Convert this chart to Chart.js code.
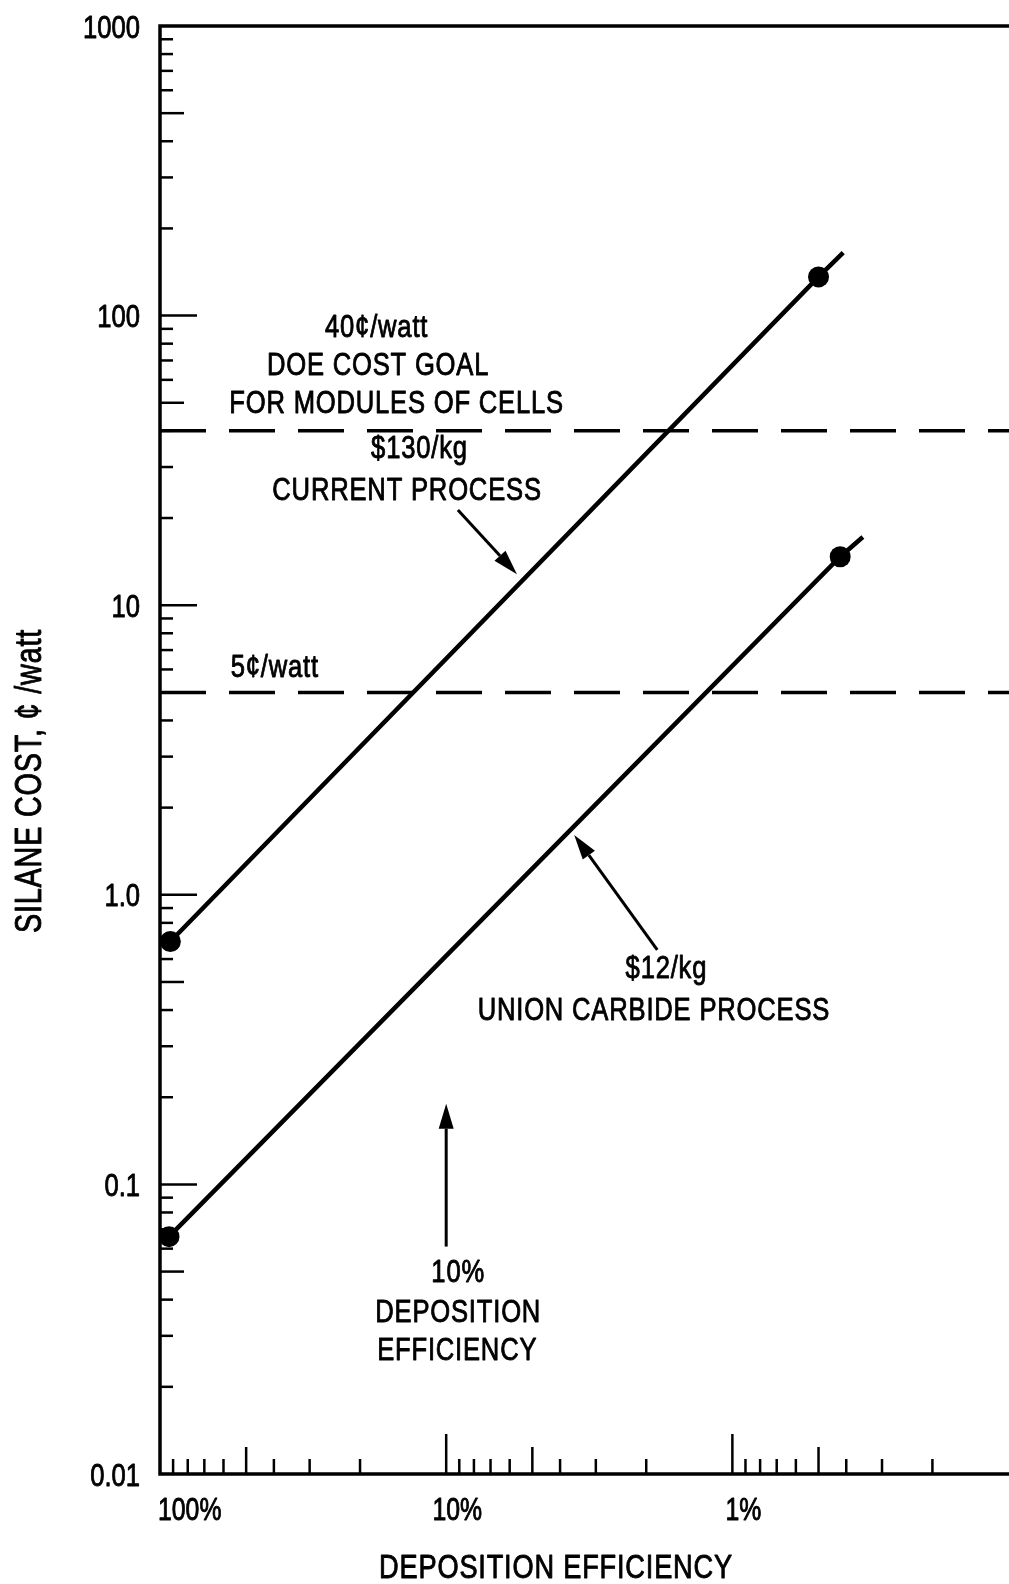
<!DOCTYPE html>
<html>
<head>
<meta charset="utf-8">
<title>Silane cost vs deposition efficiency</title>
<script src="https://cdn.jsdelivr.net/npm/chart.js@4.4.1/dist/chart.umd.min.js"></script>
<style>
  html, body { margin: 0; padding: 0; background: #fff; }
  canvas { display: block; }
</style>
</head>
<body>
<canvas id="chart" width="1009" height="1584"></canvas>
<script>
// Deposition efficiency (%) and silane cost (cents per watt) for each process line.
// The last point of each line is where the drawn line stops (no marker).
const effCurrent  = [92, 0.5, 0.41];
const costCurrent = [0.69, 136, 165];
const effUnion    = [93, 0.42, 0.35];
const costUnion   = [0.066, 14.7, 17.2];

// Horizontal reference levels, cents per watt.
const goalLevels = [40, 5];

// Axis ranges.
const effRange  = [0.108, 100];
const costRange = [0.01, 1000];

// Labelled ticks.
const yTickValues = [1000, 100, 10, 1, 0.1, 0.01];
const yTickLabels = ['1000', '100', '10', '1.0', '0.1', '0.01'];
const xTickValues = [100, 10, 1];
const xTickNumbers = ['100', '10', '1'];

// Tick marks drawn inside the frame.
const yMajorMarks = [100, 10, 1, 0.1];
const yMidMarks   = [500, 50, 5, 0.5, 0.05];
const yMinorMarks = [900, 800, 700, 600, 400, 300, 200,
                     90, 80, 70, 60, 40, 30, 20,
                     9, 8, 7, 6, 4, 3, 2,
                     0.9, 0.8, 0.7, 0.6, 0.4, 0.3, 0.2,
                     0.09, 0.08, 0.07, 0.06, 0.04, 0.03, 0.02];
const xMajorMarks = [10, 1];
const xMidMarks   = [50, 5, 0.5];
const xMinorMarks = [90, 80, 70, 60, 40, 30, 20,
                     9, 8, 7, 6, 4, 3, 2,
                     0.9, 0.8, 0.7, 0.6, 0.4, 0.3, 0.2];

// Text notes placed at (efficiency, cost) of their baseline centre.
const notes = [
  { text: '40\u00a2/watt',            eff: 17.5, cost: 84.6 },
  { text: 'DOE COST GOAL',            eff: 17.3, cost: 62.4 },
  { text: 'FOR MODULES OF CELLS',     eff: 14.9, cost: 46.2 },
  { text: '$130/kg',                  eff: 12.4, cost: 32.2 },
  { text: 'CURRENT PROCESS',          eff: 13.7, cost: 23.1 },
  { text: '5\u00a2/watt',             eff: 39.7, cost: 5.66 },
  { text: '$12/kg',                   eff: 1.70, cost: 0.516 },
  { text: 'UNION CARBIDE PROCESS',    eff: 1.88, cost: 0.370 },
  { text: '10%',                      eff: 9.08, cost: 0.0461 },
  { text: 'DEPOSITION',               eff: 9.08, cost: 0.0336 },
  { text: 'EFFICIENCY',               eff: 9.15, cost: 0.0247 }
];

// Pointer arrows: from tail to head, in (efficiency, cost).
const arrows = [
  { from: [9.10, 21.3],  to: [5.66, 12.8] },
  { from: [1.83, 0.645], to: [3.57, 1.61] },
  { from: [10, 0.061],   to: [10, 0.19] }
];

const INK = '#000';
const FONT = '"Liberation Sans", Arial, sans-serif';
const SQUEEZE = 0.8;   // horizontal squeeze for the narrow lettering

const toPoints = (xs, ys) => xs.map((v, i) => ({ x: v, y: ys[i] }));

const processLine = (label, xs, ys) => ({
  label,
  data: toPoints(xs, ys),
  showLine: true,
  borderColor: INK,
  backgroundColor: INK,
  borderWidth: 4.5,
  pointRadius: [10.5, 10.5, 0],
  pointBorderWidth: 0,
  pointBackgroundColor: INK
});

const datasets = [
  processLine('$130/kg current process', effCurrent, costCurrent),
  processLine('$12/kg Union Carbide process', effUnion, costUnion)
].concat(goalLevels.map(level => ({
  label: level + ' cents/watt',
  data: [{ x: effRange[1], y: level }, { x: effRange[0], y: level }],
  showLine: true,
  borderColor: INK,
  borderWidth: 3.5,
  borderDash: [46, 23],
  pointRadius: 0
})));

// Narrow text: draws with the canvas squeezed horizontally around the anchor,
// with a thin outline to give the lettering some weight.
function narrowText(ctx, text, x, y, size, align, spacing) {
  ctx.save();
  ctx.font = size + 'px ' + FONT;
  ctx.letterSpacing = (spacing || 0) + 'px';
  ctx.textAlign = align || 'center';
  ctx.translate(x, y);
  ctx.scale(SQUEEZE, 1);
  ctx.lineWidth = 0.9;
  ctx.lineJoin = 'round';
  ctx.fillText(text, 0, 0);
  ctx.strokeText(text, 0, 0);
  ctx.restore();
}
function narrowWidth(ctx, text, size) {
  ctx.save();
  ctx.font = size + 'px ' + FONT;
  ctx.letterSpacing = '0px';
  const w = ctx.measureText(text).width * SQUEEZE;
  ctx.restore();
  return w;
}

const paperPlugin = {
  id: 'paper',
  afterDraw(chart) {
    const { ctx, chartArea: a, scales: { x, y } } = chart;
    ctx.save();
    ctx.strokeStyle = INK;
    ctx.fillStyle = INK;

    // Frame: top, left and bottom edges
    ctx.lineWidth = 3.5;
    ctx.beginPath();
    ctx.moveTo(a.right, a.top);
    ctx.lineTo(a.left, a.top);
    ctx.lineTo(a.left, a.bottom);
    ctx.lineTo(a.right, a.bottom);
    ctx.stroke();

    // Inward tick marks
    ctx.lineWidth = 2.5;
    const yMark = (v, len) => {
      const p = y.getPixelForValue(v);
      ctx.beginPath(); ctx.moveTo(a.left, p); ctx.lineTo(a.left + len, p); ctx.stroke();
    };
    const xMark = (v, len) => {
      const p = x.getPixelForValue(v);
      ctx.beginPath(); ctx.moveTo(p, a.bottom); ctx.lineTo(p, a.bottom - len); ctx.stroke();
    };
    yMajorMarks.forEach(v => yMark(v, 37));
    yMidMarks.forEach(v => yMark(v, 24));
    yMinorMarks.forEach(v => yMark(v, 13));
    xMajorMarks.forEach(v => xMark(v, 40));
    xMidMarks.forEach(v => xMark(v, 27));
    xMinorMarks.forEach(v => xMark(v, 15));

    // Tick labels
    ctx.textBaseline = 'alphabetic';
    yTickValues.forEach((v, i) => {
      narrowText(ctx, yTickLabels[i], a.left - 20, y.getPixelForValue(v) + 11.5, 32, 'right');
    });
    xTickValues.forEach((v, i) => {
      // the number sits centred on its tick, the % sign trails it
      const num = xTickNumbers[i];
      const left = Math.max(x.getPixelForValue(v) - narrowWidth(ctx, num, 31) / 2, a.left - 2);
      narrowText(ctx, num + '%', left, a.bottom + 46, 31, 'left');
    });

    // Arrows
    ctx.lineWidth = 3;
    arrows.forEach(({ from, to }) => {
      const x0 = x.getPixelForValue(from[0]), y0 = y.getPixelForValue(from[1]);
      const x1 = x.getPixelForValue(to[0]),   y1 = y.getPixelForValue(to[1]);
      const ang = Math.atan2(y1 - y0, x1 - x0);
      const headLen = 25, headHalf = 7.5;
      const bx = x1 - headLen * Math.cos(ang), by = y1 - headLen * Math.sin(ang);
      ctx.beginPath(); ctx.moveTo(x0, y0); ctx.lineTo(bx, by); ctx.stroke();
      ctx.beginPath();
      ctx.moveTo(x1, y1);
      ctx.lineTo(bx + headHalf * Math.sin(ang), by - headHalf * Math.cos(ang));
      ctx.lineTo(bx - headHalf * Math.sin(ang), by + headHalf * Math.cos(ang));
      ctx.closePath();
      ctx.fill();
    });

    // Notes
    notes.forEach(n => {
      narrowText(ctx, n.text, x.getPixelForValue(n.eff), y.getPixelForValue(n.cost), 32, 'center', 1);
    });

    // Axis titles
    narrowText(ctx, 'DEPOSITION EFFICIENCY', 556, 1578, 34, 'center', 1);
    ctx.save();
    ctx.translate(41, 781);
    ctx.rotate(-Math.PI / 2);
    narrowText(ctx, 'SILANE COST, \u00a2 /watt', 0, 0, 36, 'center', 1);
    ctx.restore();

    ctx.restore();
  }
};

new Chart(document.getElementById('chart'), {
  type: 'scatter',
  data: { datasets },
  plugins: [paperPlugin],
  options: {
    responsive: false,
    devicePixelRatio: 1,
    animation: false,
    layout: { autoPadding: false, padding: { top: 26, right: 0, bottom: 0, left: 0 } },
    plugins: { legend: { display: false }, tooltip: { enabled: false } },
    elements: { line: { tension: 0, borderCapStyle: 'butt' } },
    scales: {
      x: {
        type: 'logarithmic',
        reverse: true,
        min: effRange[0],
        max: effRange[1],
        grid: { display: false, drawTicks: false },
        border: { display: false },
        ticks: { display: false },
        afterFit: s => { s.height = 110; }
      },
      y: {
        type: 'logarithmic',
        min: costRange[0],
        max: costRange[1],
        grid: { display: false, drawTicks: false },
        border: { display: false },
        ticks: { display: false },
        afterFit: s => { s.width = 160; }
      }
    }
  }
});
</script>
</body>
</html>
